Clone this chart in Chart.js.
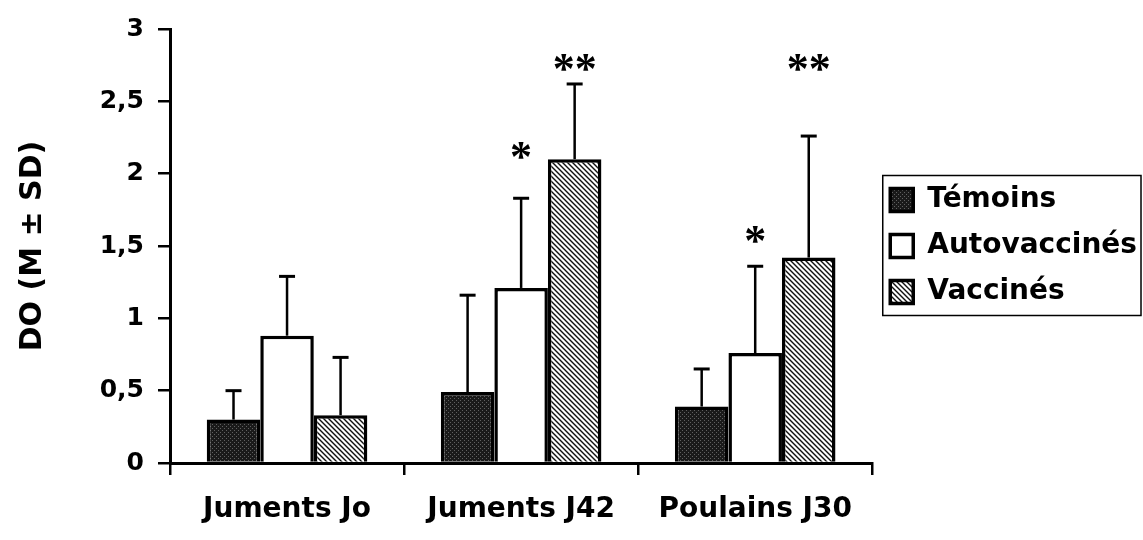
<!DOCTYPE html>
<html>
<head>
<meta charset="utf-8">
<script src="https://cdn.jsdelivr.net/npm/chart.js@4.4.1/dist/chart.umd.min.js"></script>
<style>
  html, body { margin: 0; padding: 0; background: #fff; }
  #wrap { width: 1143px; height: 540px; }
</style>
</head>
<body>
<div id="wrap"><canvas id="chart" width="1143" height="540"></canvas></div>
<script>
// groups on the x axis
const categories = ['Juments Jo', 'Juments J42', 'Poulains J30'];
const seriesNames = ['Témoins', 'Autovaccinés', 'Vaccinés'];

// means (DO)
const temoins = [0.30, 0.49, 0.39];
const autovaccines = [0.88, 1.21, 0.76];
const vaccines = [0.33, 2.10, 1.42];

// standard deviations (upper error bar only)
const temoinsSD = [0.20, 0.67, 0.26];
const autovaccinesSD = [0.41, 0.62, 0.60];
const vaccinesSD = [0.40, 0.52, 0.84];

// significance marks and the level they sit at
const autovaccinesStars = ['', '*', '*'];
const autovaccinesStarLevel = [null, 2.12, 1.54];
const vaccinesStars = ['', '**', '**'];
const vaccinesStarLevel = [null, 2.73, 2.73];

const yTickLabels = ['0', '0,5', '1', '1,5', '2', '2,5', '3'];

const FONT = 'DejaVu Sans';

// fill patterns
function stipple() {
    const c = document.createElement('canvas');
    c.width = 4; c.height = 4;
    const g = c.getContext('2d');
    g.fillStyle = '#1a1a1a';
    g.fillRect(0, 0, 4, 4);
    g.fillStyle = '#606060';
    g.fillRect(0, 0, 1, 1);
    g.fillRect(2, 2, 1, 1);
    return g.createPattern(c, 'repeat');
}

function hatch() {
    const c = document.createElement('canvas');
    c.width = 5; c.height = 5;
    const g = c.getContext('2d');
    g.fillStyle = '#fff';
    g.fillRect(0, 0, 5, 5);
    g.strokeStyle = '#111';
    g.lineWidth = 1.4;
    g.beginPath();
    g.moveTo(-1, -1); g.lineTo(6, 6);
    g.moveTo(-1, 4); g.lineTo(1, 6);
    g.moveTo(4, -1); g.lineTo(6, 1);
    g.stroke();
    return g.createPattern(c, 'repeat');
}

const sdList = [temoinsSD, autovaccinesSD, vaccinesSD];
const starList = [null, {marks: autovaccinesStars, level: autovaccinesStarLevel}, {marks: vaccinesStars, level: vaccinesStarLevel}];

// upper error bars with a cap, then the asterisks
const errorBars = {
    id: 'errorBars',
    afterDatasetsDraw(chart) {
        const ctx = chart.ctx;
        const y = chart.scales.y;
        ctx.save();
        ctx.strokeStyle = '#000';
        chart.data.datasets.forEach((ds, i) => {
            const meta = chart.getDatasetMeta(i);
            meta.data.forEach((bar, j) => {
                const top = y.getPixelForValue(ds.data[j] + sdList[i][j]);
                ctx.lineWidth = 2.5;
                ctx.beginPath();
                ctx.moveTo(bar.x, bar.y);
                ctx.lineTo(bar.x, top);
                ctx.stroke();
                ctx.lineWidth = 3;
                ctx.beginPath();
                ctx.moveTo(bar.x - 8, top);
                ctx.lineTo(bar.x + 8, top);
                ctx.stroke();

                const st = starList[i];
                if (st && st.marks[j]) {
                    const sy = y.getPixelForValue(st.level[j]);
                    ctx.fillStyle = '#000';
                    ctx.font = 'bold 44px "Liberation Serif"';
                    ctx.textAlign = 'center';
                    ctx.textBaseline = 'alphabetic';
                    ctx.fillText(st.marks[j], bar.x, sy + 0.34 * 44);
                }
            });
        });
        ctx.restore();
    }
};

// frame round the legend
const legendFrame = {
    id: 'legendFrame',
    afterDraw(chart) {
        const boxes = chart.legend.legendHitBoxes;
        if (!boxes || !boxes.length) return;
        const first = boxes[0];
        const last = boxes[boxes.length - 1];
        const ctx = chart.ctx;
        const left = first.left - 7.5;
        const top = first.top - 10.5;
        const bottom = last.top + last.height + 9.5;
        ctx.save();
        ctx.strokeStyle = '#000';
        ctx.lineWidth = 1.5;
        ctx.strokeRect(left, top, chart.width - 2 - left, bottom - top);
        ctx.restore();
    }
};

Chart.defaults.font.family = FONT;
Chart.defaults.color = '#000';

new Chart(document.getElementById('chart'), {
    type: 'bar',
    data: {
        labels: categories,
        datasets: [
            {
                label: seriesNames[0],
                data: temoins,
                backgroundColor: stipple(),
                borderColor: '#000',
                borderWidth: 3.5
            },
            {
                label: seriesNames[1],
                data: autovaccines,
                backgroundColor: '#fff',
                borderColor: '#000',
                borderWidth: 3.5
            },
            {
                label: seriesNames[2],
                data: vaccines,
                backgroundColor: hatch(),
                borderColor: '#000',
                borderWidth: 3.5
            }
        ]
    },
    options: {
        responsive: false,
        animation: false,
        devicePixelRatio: 1,
        layout: {
            padding: { left: 0, top: 22, right: -4, bottom: 0 }
        },
        datasets: {
            bar: {
                categoryPercentage: 0.686,
                barPercentage: 1.0
            }
        },
        scales: {
            x: {
                afterFit(scale) { scale.height = 77; },
                grid: {
                    offset: true,
                    drawOnChartArea: false,
                    drawTicks: true,
                    tickLength: 12,
                    color: '#000',
                    lineWidth: 2.5
                },
                border: { display: true, color: '#000', width: 3 },
                ticks: {
                    font: { family: FONT, size: 28, weight: 'bold' },
                    color: '#000',
                    padding: 18,
                    maxRotation: 0,
                    autoSkip: false
                }
            },
            y: {
                min: 0,
                max: 3,
                afterFit(scale) { scale.width = 170; },
                grid: {
                    drawOnChartArea: false,
                    drawTicks: true,
                    tickLength: 12,
                    color: '#000',
                    lineWidth: 2.5
                },
                border: { display: true, color: '#000', width: 3 },
                ticks: {
                    stepSize: 0.5,
                    font: { family: FONT, size: 25, weight: 'bold' },
                    color: '#000',
                    padding: 14,
                    callback: (v, i) => yTickLabels[i]
                },
                title: {
                    display: true,
                    text: 'DO (M ± SD)',
                    font: { family: FONT, size: 30, weight: 'bold' },
                    color: '#000',
                    padding: { top: 15, bottom: 0 }
                }
            }
        },
        plugins: {
            legend: {
                position: 'right',
                fullSize: false,
                labels: {
                    boxWidth: 23,
                    boxHeight: 23,
                    padding: 18,
                    color: '#000',
                    font: { family: FONT, size: 28, weight: 'bold' }
                }
            },
            tooltip: { enabled: false }
        }
    },
    plugins: [errorBars, legendFrame]
});
</script>
</body>
</html>
